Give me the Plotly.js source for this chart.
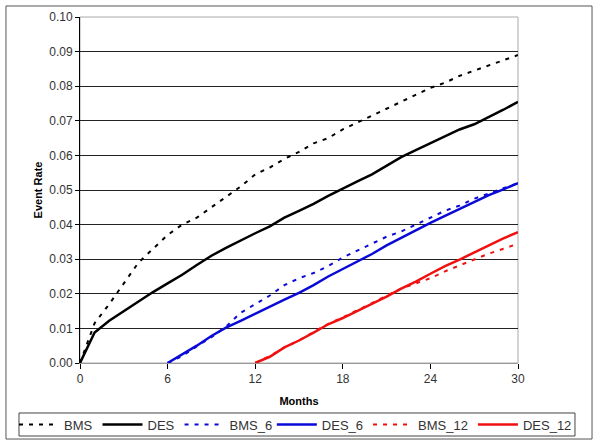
<!DOCTYPE html>
<html>
<head>
<meta charset="utf-8">
<script src="https://cdn.plot.ly/plotly-3.0.1.min.js"></script>
<style>
  body { margin: 0; background: #fff; }
  #chart { width: 600px; height: 445px; }
</style>
</head>
<body>
<div id="chart"></div>
<script>
// Meses (eje x)
const meses0 = [0, 1, 2, 3, 4, 5, 6, 7, 8, 9, 10, 11, 12, 13, 14, 15, 16, 17, 18, 19, 20, 21, 22, 23, 24, 25, 26, 27, 28, 29, 30];
const meses6 = [6, 7, 8, 9, 10, 11, 12, 13, 14, 15, 16, 17, 18, 19, 20, 21, 22, 23, 24, 25, 26, 27, 28, 29, 30];
const meses12 = [12, 13, 14, 15, 16, 17, 18, 19, 20, 21, 22, 23, 24, 25, 26, 27, 28, 29, 30];

// Tasas de eventos
const bms = [0, 0.0115, 0.017, 0.023, 0.029, 0.033, 0.037, 0.040, 0.042, 0.045, 0.048, 0.051, 0.0545, 0.0565, 0.059, 0.061, 0.0635, 0.065, 0.0675, 0.0695, 0.0715, 0.0735, 0.0755, 0.0775, 0.0795, 0.081, 0.083, 0.0845, 0.086, 0.0875, 0.089];
const des = [0, 0.0088, 0.0122, 0.015, 0.0178, 0.0205, 0.023, 0.0255, 0.0283, 0.031, 0.0333, 0.0355, 0.0375, 0.0395, 0.042, 0.044, 0.046, 0.0483, 0.0505, 0.0525, 0.0545, 0.057, 0.0595, 0.0615, 0.0635, 0.0655, 0.0675, 0.069, 0.071, 0.0732, 0.0755];
const bms6 = [0, 0.002, 0.0048, 0.0075, 0.0105, 0.0145, 0.017, 0.0195, 0.0225, 0.0245, 0.026, 0.028, 0.0305, 0.0325, 0.0345, 0.0365, 0.038, 0.040, 0.042, 0.044, 0.0455, 0.0475, 0.049, 0.0505, 0.052];
const des6 = [0, 0.0025, 0.005, 0.0078, 0.0102, 0.0122, 0.0143, 0.0163, 0.0183, 0.0203, 0.0225, 0.025, 0.0272, 0.0295, 0.0315, 0.034, 0.0362, 0.0385, 0.0405, 0.0425, 0.0445, 0.0465, 0.0485, 0.0502, 0.052];
const bms12 = [0, 0.002, 0.0045, 0.0065, 0.009, 0.0113, 0.0132, 0.0152, 0.0173, 0.0195, 0.0215, 0.023, 0.0245, 0.0265, 0.0282, 0.0298, 0.0316, 0.033, 0.0345];
const des12 = [0, 0.0018, 0.0045, 0.0065, 0.0088, 0.0112, 0.013, 0.015, 0.017, 0.0192, 0.0215, 0.0235, 0.0258, 0.028, 0.0299, 0.032, 0.034, 0.036, 0.0378];

const azul = '#0a0ad8';
const rojo = '#f01010';
const punteado = '4px,6px';

function serie(x, y, nombre, color, dash, ancho, leyenda) {
    return {
        x: x, y: y, name: nombre, type: 'scatter', mode: 'lines',
        legend: leyenda,
        line: { color: color, width: ancho, dash: dash }
    };
}

const trazas = [
    serie(meses0, bms, 'BMS', '#000000', punteado, 2, 'legend'),
    serie(meses0, des, 'DES', '#000000', 'solid', 2.5, 'legend'),
    serie(meses6, bms6, 'BMS_6', azul, punteado, 2, 'legend'),
    serie(meses6, des6, 'DES_6', azul, 'solid', 2.5, 'legend2'),
    serie(meses12, bms12, 'BMS_12', rojo, punteado, 2, 'legend2'),
    serie(meses12, des12, 'DES_12', rojo, 'solid', 2.5, 'legend2')
];

const fuente = { family: 'Liberation Sans, Arial, sans-serif', size: 12, color: '#333' };
const fuenteLeyenda = { family: 'Liberation Sans, Arial, sans-serif', size: 13, color: '#333' };

// La leyenda se divide en dos para que quepa en una sola fila
const leyendaBase = {
    orientation: 'h',
    y: -0.178, xanchor: 'left', yanchor: 'middle',
    borderwidth: 0, bgcolor: 'rgba(0,0,0,0)',
    font: fuenteLeyenda,
    itemwidth: 40,
    tracegroupgap: 0
};

const layout = {
    width: 600,
    height: 445,
    margin: { l: 80, r: 82, t: 17, b: 82, autoexpand: false },
    paper_bgcolor: 'white',
    plot_bgcolor: 'white',
    font: fuente,
    showlegend: true,
    legend: Object.assign({}, leyendaBase, { x: -0.1507 }),
    legend2: Object.assign({}, leyendaBase, { x: 0.438 }),
    xaxis: {
        range: [0, 30],
        tickvals: [0, 6, 12, 18, 24, 30],
        ticks: 'outside', ticklen: 5, tickcolor: '#000',
        showline: true, linecolor: '#999', linewidth: 1,
        showgrid: false, zeroline: false,
        tickfont: fuente,
        title: { text: '<b>Months</b>', font: { family: 'Liberation Sans, Arial, sans-serif', size: 11, color: '#000' }, standoff: 11 }
    },
    yaxis: {
        range: [0, 0.1],
        dtick: 0.01,
        tickformat: '.2f',
        ticks: 'outside', ticklen: 4, tickcolor: '#000',
        showline: true, linecolor: '#000', linewidth: 1,
        showgrid: true, gridcolor: '#222', gridwidth: 1,
        zeroline: false,
        tickfont: fuente,
        title: { text: '<b>Event Rate</b>', font: { family: 'Liberation Sans, Arial, sans-serif', size: 11, color: '#000' }, standoff: 4 }
    },
    shapes: [
        // borde del area de trazado
        { type: 'rect', xref: 'paper', yref: 'paper', x0: 0, x1: 1, y0: 0, y1: 1,
          line: { color: '#aaa', width: 1 }, layer: 'below' },
        // marco exterior del grafico
        { type: 'rect', xref: 'paper', yref: 'paper', x0: -0.169, x1: 1.169, y0: -0.2197, y1: 1.0318,
          line: { color: '#555', width: 1 }, layer: 'below' },
        // recuadro de la leyenda
        { type: 'rect', xref: 'paper', yref: 'paper', x0: -0.1393, x1: 1.1301, y0: -0.211, y1: -0.1445,
          line: { color: '#444', width: 1 }, layer: 'below' }
    ]
};

Plotly.newPlot('chart', trazas, layout, { displayModeBar: false, staticPlot: true });
</script>
</body>
</html>
